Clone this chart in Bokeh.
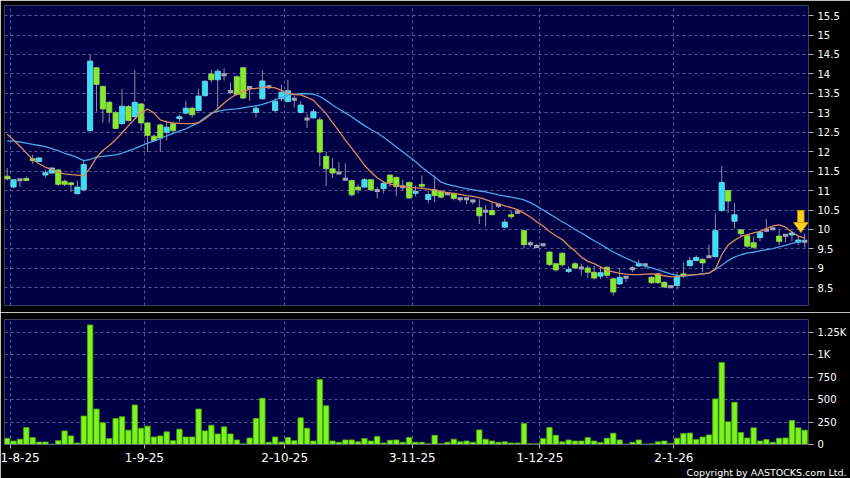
from bokeh.plotting import figure
from bokeh.layouts import column
from bokeh.models import FixedTicker, CustomJSTickFormatter, Range1d, Title
from bokeh.embed import file_html
from bokeh.resources import INLINE

# ---------------- data ----------------
opens = [11.37, 11.09, 11.28, 11.31, 11.82, 11.75, 11.40, 11.45, 11.53, 11.24,
         11.20, 10.92, 11.02, 12.54, 14.16, 13.68, 13.27, 13.01, 12.72, 13.16,
         12.90, 13.23, 12.74, 12.40, 12.69, 12.50, 12.72, 12.85, 12.99, 13.12,
         13.06, 13.44, 14.00, 13.85, 13.98, 13.55, 13.93, 14.16, 13.65, 13.01,
         13.36, 13.67, 13.06, 13.36, 13.29, 13.35, 13.01, 12.84, 12.87, 12.82,
         11.88, 11.56, 11.45, 11.29, 11.26, 11.09, 11.09, 11.28, 11.00, 11.05,
         11.40, 11.34, 11.10, 11.21, 10.93, 11.16, 10.77, 11.02, 10.98, 10.92,
         10.92, 10.79, 10.79, 10.73, 10.56, 10.47, 10.49, 10.62, 10.06, 10.38,
         10.44, 9.97, 9.63, 9.56, 9.61, 9.42, 9.12, 9.39, 8.92, 9.12,
         9.01, 9.01, 8.90, 8.80, 9.03, 8.73, 8.60, 8.77, 8.99, 9.06,
         9.09, 8.77, 8.86, 8.64, 8.53, 8.56, 8.86, 9.07, 9.20, 9.23,
         9.30, 9.30, 10.49, 11.00, 10.21, 9.99, 9.84, 9.66, 9.79, 9.98,
         10.02, 9.83, 9.85, 9.86, 9.67, 9.70]
highs = [11.58, 11.28, 11.28, 11.36, 11.92, 11.86, 11.52, 11.60, 11.55, 11.28,
         11.22, 11.26, 11.77, 14.50, 14.16, 13.70, 13.30, 13.05, 13.62, 13.20,
         14.10, 13.25, 12.76, 12.44, 12.72, 12.80, 12.78, 12.95, 13.31, 13.15,
         13.62, 13.84, 14.10, 14.13, 14.15, 13.78, 13.96, 14.18, 13.66, 13.19,
         14.09, 13.72, 13.38, 13.72, 13.85, 13.44, 13.30, 12.97, 13.10, 12.88,
         12.00, 11.84, 11.73, 11.70, 11.28, 11.16, 11.32, 11.30, 11.09, 11.25,
         11.42, 11.36, 11.28, 11.23, 11.12, 11.39, 11.00, 11.39, 11.02, 10.96,
         10.95, 10.82, 10.82, 10.78, 10.78, 10.63, 10.69, 10.64, 10.27, 10.48,
         10.49, 9.99, 9.70, 9.63, 9.64, 9.44, 9.14, 9.41, 9.05, 9.16,
         9.12, 9.08, 9.06, 9.06, 9.05, 8.77, 9.01, 8.79, 9.05, 9.22,
         9.12, 8.80, 8.88, 8.66, 8.56, 8.91, 9.15, 9.30, 9.33, 9.26,
         9.61, 10.42, 11.64, 11.02, 10.68, 10.01, 9.86, 9.82, 9.95, 10.27,
         10.05, 10.00, 9.87, 9.96, 9.83, 9.89]
lows = [11.26, 11.06, 11.10, 11.25, 11.69, 11.74, 11.34, 11.43, 11.12, 11.12,
        10.96, 10.90, 10.98, 12.54, 13.03, 12.75, 12.74, 12.58, 12.70, 12.78,
        12.88, 12.54, 11.99, 12.27, 12.00, 12.29, 12.45, 12.78, 12.97, 12.87,
        13.04, 13.42, 13.78, 13.06, 13.83, 13.48, 13.45, 13.36, 13.31, 12.88,
        13.34, 13.60, 13.02, 13.30, 13.27, 13.14, 12.98, 12.61, 12.85, 11.62,
        11.12, 11.33, 11.43, 11.26, 10.85, 10.93, 11.07, 11.00, 10.80, 10.93,
        11.10, 10.85, 11.00, 10.79, 10.85, 11.08, 10.68, 10.70, 10.80, 10.88,
        10.75, 10.70, 10.65, 10.65, 10.14, 10.08, 10.36, 10.55, 10.04, 10.27,
        10.40, 9.52, 9.55, 9.52, 9.57, 9.06, 8.92, 9.05, 8.88, 8.98,
        8.82, 8.75, 8.72, 8.72, 8.75, 8.30, 8.57, 8.65, 8.90, 9.04,
        8.99, 8.60, 8.60, 8.50, 8.50, 8.45, 8.76, 9.05, 9.18, 8.90,
        9.28, 9.28, 10.45, 10.42, 10.02, 9.82, 9.53, 9.50, 9.70, 9.93,
        9.98, 9.60, 9.67, 9.70, 9.60, 9.54]
closes = [11.30, 11.28, 11.28, 11.26, 11.77, 11.84, 11.46, 11.58, 11.16, 11.16,
          11.15, 11.09, 11.67, 14.33, 13.73, 13.10, 13.01, 12.60, 13.17, 12.80,
          13.27, 12.74, 12.42, 12.29, 12.35, 12.63, 12.54, 12.90, 13.12, 12.95,
          13.43, 13.81, 13.85, 14.07, 13.98, 13.55, 13.47, 13.38, 13.65, 13.12,
          13.82, 13.67, 13.30, 13.53, 13.57, 13.35, 13.20, 12.84, 13.03, 11.99,
          11.56, 11.45, 11.45, 11.29, 10.89, 11.02, 11.28, 11.02, 11.00, 11.19,
          11.21, 11.10, 11.10, 10.81, 10.98, 11.11, 10.90, 10.87, 10.83, 10.92,
          10.80, 10.79, 10.79, 10.73, 10.35, 10.47, 10.38, 10.62, 10.19, 10.33,
          10.44, 9.61, 9.63, 9.56, 9.61, 9.10, 8.96, 9.09, 8.97, 9.01,
          9.01, 8.90, 8.75, 8.89, 8.82, 8.39, 8.77, 8.77, 8.99, 9.12,
          9.09, 8.63, 8.63, 8.52, 8.53, 8.79, 8.80, 9.20, 9.28, 9.14,
          9.30, 9.97, 11.21, 10.73, 10.38, 9.89, 9.57, 9.54, 9.93, 9.98,
          10.02, 9.69, 9.85, 9.91, 9.73, 9.70]
volumes = [70, 39, 59, 189, 77, 28, 28, 3, 43, 152,
           96, 17, 318, 1334, 396, 242, 66, 291, 310, 160,
           441, 182, 205, 84, 96, 141, 43, 171, 84, 84,
           396, 152, 216, 118, 197, 118, 51, 8, 73, 291,
           516, 25, 84, 28, 77, 43, 298, 182, 39, 726,
           433, 39, 25, 51, 51, 30, 66, 39, 90, 17,
           47, 51, 25, 77, 25, 25, 8, 103, 8, 25,
           59, 30, 39, 25, 163, 59, 39, 25, 30, 17,
           17, 234, 8, 8, 66, 189, 103, 30, 51, 39,
           39, 77, 39, 21, 70, 126, 51, 5, 25, 51,
           5, 8, 30, 39, 12, 70, 122, 128, 55, 84,
           107, 509, 914, 253, 471, 133, 73, 186, 39, 55,
           25, 70, 73, 268, 186, 160]
ma10 = [12.45, 12.30, 12.14, 11.97, 11.80, 11.69, 11.60, 11.55, 11.47, 11.43,
        11.41, 11.40, 11.38, 11.58, 11.85, 12.03, 12.16, 12.31, 12.48, 12.67,
        12.84, 13.00, 13.10, 13.00, 12.82, 12.77, 12.74, 12.73, 12.72, 12.72,
        12.74, 12.84, 12.97, 13.10, 13.25, 13.38, 13.48, 13.55, 13.61, 13.63,
        13.65, 13.66, 13.64, 13.58, 13.50, 13.47, 13.46, 13.40, 13.32, 13.15,
        12.98, 12.75, 12.53, 12.30, 12.09, 11.88, 11.65, 11.48, 11.33, 11.22,
        11.17, 11.13, 11.11, 11.09, 11.07, 11.06, 11.04, 11.01, 10.98, 10.95,
        10.93, 10.90, 10.87, 10.85, 10.82, 10.77, 10.71, 10.66, 10.61, 10.56,
        10.51, 10.42, 10.32, 10.20, 10.09, 9.95, 9.84, 9.74, 9.58, 9.45,
        9.29, 9.18, 9.12, 9.04, 8.95, 8.91, 8.87, 8.85, 8.84, 8.84,
        8.85, 8.86, 8.84, 8.81, 8.78, 8.79, 8.82, 8.83, 8.84, 8.86,
        8.88, 8.98, 9.35, 9.60, 9.72, 9.82, 9.87, 9.91, 9.95, 10.02,
        10.09, 10.12, 10.06, 9.93, 9.83, 9.78]
ma20 = [12.28, 12.27, 12.25, 12.22, 12.19, 12.16, 12.13, 12.08, 12.03, 11.96,
        11.91, 11.85, 11.77, 11.80, 11.86, 11.88, 11.90, 11.92, 11.96, 12.02,
        12.08, 12.15, 12.22, 12.27, 12.34, 12.41, 12.47, 12.53, 12.59, 12.67,
        12.75, 12.88, 12.99, 13.04, 13.07, 13.09, 13.10, 13.13, 13.16, 13.18,
        13.22, 13.27, 13.33, 13.40, 13.45, 13.48, 13.49, 13.49, 13.48, 13.42,
        13.32, 13.20, 13.10, 13.00, 12.90, 12.78, 12.67, 12.57, 12.48, 12.37,
        12.25, 12.12, 12.00, 11.87, 11.75, 11.60, 11.47, 11.35, 11.22, 11.16,
        11.12, 11.08, 11.05, 11.02, 10.99, 10.97, 10.93, 10.89, 10.86, 10.83,
        10.80, 10.76, 10.69, 10.60, 10.50, 10.40, 10.30, 10.20, 10.11, 10.00,
        9.91, 9.81, 9.71, 9.62, 9.52, 9.42, 9.34, 9.26, 9.19, 9.12,
        9.06, 9.01, 8.96, 8.91, 8.86, 8.82, 8.81, 8.82, 8.84, 8.86,
        8.88, 8.97, 9.08, 9.20, 9.29, 9.35, 9.39, 9.42, 9.45, 9.48,
        9.51, 9.55, 9.59, 9.64, 9.68, 9.72]
tick_index = [1, 22, 44, 64, 84, 105]
tick_labels = ["1-8-25", "1-9-25", "2-10-25", "3-11-25", "1-12-25", "2-1-26"]
price_ticks = [8.5, 9, 9.5, 10, 10.5, 11, 11.5, 12, 12.5, 13, 13.5, 14, 14.5, 15, 15.5]
volume_ticks = [0, 250, 500, 750, 1000, 1250]
copyright_text = "Copyright by AASTOCKS.com Ltd."

n = len(closes)
assert all(len(a) == n for a in (opens, highs, lows, volumes, ma10, ma20))

# ---------------- styling ----------------
BG = "#000046"
GRID = "#5a5a90"
UP = "#33e2f4"
DOWN = "#84ec22"
FLAT = "#a4a4b4"
WICK = "#8e8ea0"
VOL = "#7cf51c"
FONT = "DejaVu Sans"

xs = [i + 0.5 for i in range(n)]
up = [i for i in range(n) if closes[i] > opens[i]]
dn = [i for i in range(n) if closes[i] < opens[i]]
fl = [i for i in range(n) if closes[i] == opens[i]]

x_range = Range1d(0.08, n + 0.1)


def style(p):
    p.background_fill_color = BG
    p.border_fill_color = "black"
    p.outline_line_color = None
    for g in (p.xgrid, p.ygrid):
        g.grid_line_color = GRID
        g.grid_line_dash = "3 3"
        g.grid_line_width = 1
    p.xgrid.ticker = FixedTicker(ticks=tick_index)
    ax = p.yaxis[0]
    ax.major_label_text_color = "white"
    ax.major_label_text_font = FONT
    ax.major_label_text_font_size = "10px"
    ax.major_tick_line_color = "#b0b0b0"
    ax.major_tick_out = 5
    ax.major_tick_in = 0
    ax.minor_tick_line_color = None
    ax.axis_line_color = None
    ax.major_label_standoff = 4


# ---------------- price panel ----------------
p1 = figure(frame_width=804, frame_height=300, width=850, height=312,
            x_range=x_range, y_range=Range1d(8.045, 15.76),
            x_axis_location=None, y_axis_location="right",
            output_backend="svg", toolbar_location=None,
            min_border_left=4, min_border_right=42, min_border_top=5, min_border_bottom=7)
style(p1)
p1.ygrid.ticker = FixedTicker(ticks=price_ticks)
p1.yaxis.ticker = FixedTicker(ticks=price_ticks)
p1.yaxis.formatter = CustomJSTickFormatter(code="return String(tick);")

p1.segment(x0=xs, y0=lows, x1=xs, y1=highs, line_color=WICK, line_width=1)
p1.vbar(x=[xs[i] for i in up], width=0.82, bottom=[opens[i] for i in up],
        top=[closes[i] for i in up], fill_color=UP, line_color="#7fd8e8", line_width=0.8)
p1.vbar(x=[xs[i] for i in dn], width=0.82, bottom=[closes[i] for i in dn],
        top=[opens[i] for i in dn], fill_color=DOWN, line_color="#9ad860", line_width=0.8)
p1.rect(x=[xs[i] for i in fl], y=[opens[i] for i in fl], width=0.82, height=3,
        height_units="screen", fill_color=FLAT, line_color=None)

p1.line(xs, ma20, line_color="#4aa6e6", line_width=1.3)
p1.line(xs, ma10, line_color="#e0875c", line_width=1.3)

# yellow marker arrow over the latest bar
ax_x = xs[-1] - 0.6
tip = highs[-1] + 0.03
head_len, head_half = 0.26, 1.15
shaft_len, shaft_half = 0.31, 0.5
p1.quad(left=[ax_x - shaft_half], right=[ax_x + shaft_half],
        bottom=[tip + head_len - 0.01], top=[tip + head_len + shaft_len],
        fill_color="#ffd21e", line_color="#e0a000", line_width=0.8)
p1.patch([ax_x - head_half, ax_x + head_half, ax_x],
         [tip + head_len, tip + head_len, tip],
         fill_color="#ffd21e", line_color="#e0a000", line_width=0.8)

# ---------------- volume panel ----------------
p2 = figure(frame_width=804, frame_height=125, width=850, height=166,
            x_range=x_range, y_range=Range1d(0, 1395),
            x_axis_location="below", y_axis_location="right",
            output_backend="svg", toolbar_location=None,
            min_border_left=4, min_border_right=42, min_border_top=7, min_border_bottom=34)
style(p2)
p2.ygrid.ticker = FixedTicker(ticks=volume_ticks[1:])
p2.yaxis.ticker = FixedTicker(ticks=volume_ticks)
p2.yaxis.formatter = CustomJSTickFormatter(
    code="return tick >= 1000 ? (tick / 1000) + 'K' : String(tick);")
xa = p2.xaxis[0]
xa.ticker = FixedTicker(ticks=tick_index)
xa.major_label_overrides = {k: v for k, v in zip(tick_index, tick_labels)}
xa.major_label_text_color = "white"
xa.major_label_text_font = FONT
xa.major_label_text_font_size = "12px"
xa.major_tick_line_color = "#b0b0b0"
xa.major_tick_out = 4
xa.major_tick_in = 0
xa.minor_tick_line_color = None
xa.axis_line_color = "#606070"
xa.major_label_standoff = 4

p2.vbar(x=xs, width=0.84, bottom=0, top=volumes, fill_color=VOL,
        line_color="#4fae0c", line_width=0.8)

p2.add_layout(Title(text=copyright_text, align="right", offset=-38, standoff=0,
                    text_color="white", text_font=FONT, text_font_size="9.5px",
                    text_font_style="normal"), "below")

layout = column(p1, p2, spacing=0)

open("out.html", "w").write(file_html(layout, INLINE))
